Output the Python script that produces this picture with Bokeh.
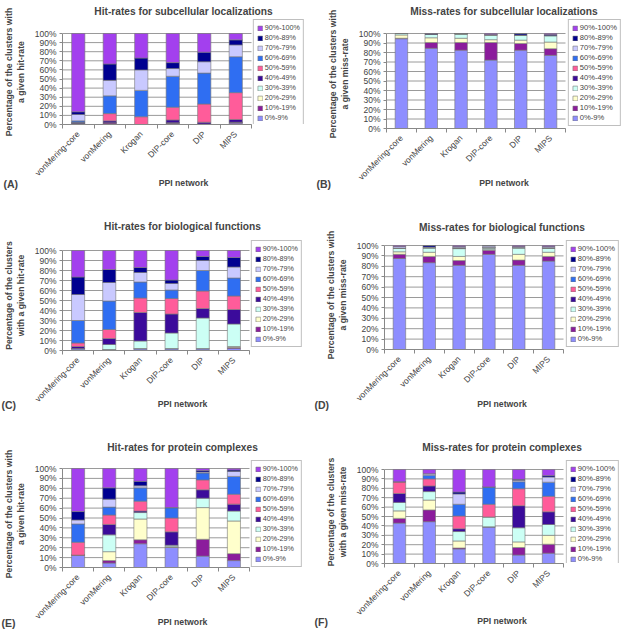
import math
from bokeh.plotting import figure
from bokeh.models import (FixedTicker, NumeralTickFormatter, Legend, LegendItem,
                          ColumnDataSource, Range1d, Title)
from bokeh.layouts import column, row
from bokeh.embed import file_html
from bokeh.resources import INLINE

networks = ["vonMering-core", "vonMering", "Krogan", "DIP-core", "DIP", "MIPS"]
bins = ["0%-9%", "10%-19%", "20%-29%", "30%-39%", "40%-49%",
        "50%-59%", "60%-69%", "70%-79%", "80%-89%", "90%-100%"]
bin_colors = ["#8E8EFF", "#8B1C9C", "#FFFFCC", "#CCFFF5", "#3B0B9B",
              "#FF5C9A", "#2F6EF2", "#C9C9FF", "#000090", "#A340EE"]
y_ticks = [i / 10 for i in range(11)]

hit_loc = [
    [1.0, 0.5, 0.0, 0.0, 1.0, 0.0, 1.5, 7.0, 3.0, 86.0],
    [0.5, 1.5, 0.0, 0.0, 2.0, 8.0, 19.5, 17.0, 18.0, 33.5],
    [0.0, 0.0, 0.0, 0.0, 0.0, 8.5, 29.0, 22.5, 13.0, 27.0],
    [1.0, 1.0, 0.0, 0.0, 3.0, 14.0, 34.0, 8.5, 6.5, 32.0],
    [0.5, 0.0, 0.0, 0.0, 2.0, 20.0, 34.0, 12.5, 10.5, 20.5],
    [1.5, 1.0, 0.0, 0.0, 3.0, 29.5, 39.5, 13.0, 5.5, 7.0],
]
miss_loc = [
    [94.5, 0.5, 3.5, 1.5, 0.0, 0.0, 0.0, 0.0, 0.0, 0.0],
    [84.5, 6.0, 5.0, 3.5, 0.3, 0.0, 0.0, 0.0, 0.5, 0.2],
    [82.5, 8.0, 4.5, 4.5, 0.3, 0.0, 0.0, 0.0, 0.2, 0.0],
    [72.0, 18.5, 3.0, 5.0, 0.0, 0.0, 0.0, 0.5, 0.0, 1.0],
    [82.5, 7.0, 3.5, 5.0, 0.5, 0.0, 0.0, 0.0, 1.5, 0.0],
    [77.0, 7.0, 7.0, 6.5, 0.5, 0.0, 0.0, 0.0, 1.0, 1.0],
]
hit_fun = [
    [1.5, 0.5, 0.0, 0.0, 2.0, 3.5, 22.5, 26.0, 17.5, 26.5],
    [0.5, 0.5, 0.0, 5.0, 6.0, 9.0, 28.5, 18.5, 13.0, 19.0],
    [1.5, 0.5, 0.0, 7.5, 28.5, 14.5, 16.0, 9.5, 5.0, 17.0],
    [1.5, 0.5, 0.0, 15.5, 19.0, 15.5, 8.5, 6.5, 3.5, 29.5],
    [1.5, 0.5, 0.0, 30.5, 9.5, 17.5, 20.5, 10.0, 4.0, 6.0],
    [2.0, 1.0, 1.0, 22.5, 14.5, 13.5, 18.0, 11.0, 9.5, 7.0],
]
miss_fun = [
    [87.5, 4.0, 2.5, 3.5, 0.0, 0.0, 0.0, 1.5, 0.0, 1.0],
    [83.5, 6.0, 4.0, 4.0, 0.5, 0.0, 0.0, 0.5, 1.5, 0.0],
    [81.0, 4.5, 4.0, 7.5, 0.5, 0.0, 0.0, 1.0, 0.5, 1.0],
    [91.5, 4.0, 0.5, 1.5, 0.5, 0.0, 0.0, 1.5, 0.5, 0.0],
    [81.0, 5.0, 5.5, 6.0, 0.5, 0.0, 0.0, 1.0, 0.0, 1.0],
    [85.0, 4.5, 4.0, 4.0, 0.0, 0.0, 0.0, 1.0, 0.5, 1.0],
]
hit_cpx = [
    [12.5, 0.0, 0.0, 0.0, 0.0, 13.0, 18.5, 4.0, 8.5, 43.5],
    [4.5, 2.5, 9.0, 17.0, 10.5, 9.5, 8.0, 8.0, 11.5, 19.5],
    [24.0, 4.0, 21.0, 6.5, 1.5, 10.0, 13.5, 2.0, 4.5, 13.0],
    [20.5, 0.0, 0.5, 1.5, 13.5, 14.0, 10.5, 0.0, 0.0, 39.5],
    [11.5, 17.0, 32.0, 9.5, 8.5, 10.0, 7.0, 1.0, 1.5, 2.0],
    [7.0, 7.0, 33.0, 10.0, 7.0, 10.0, 18.0, 5.0, 1.5, 1.5],
]
miss_cpx = [
    [43.0, 5.0, 8.0, 9.0, 9.5, 12.5, 0.0, 0.0, 0.0, 13.0],
    [44.5, 12.5, 10.5, 9.0, 6.0, 7.5, 4.0, 1.5, 0.0, 4.5],
    [15.5, 1.0, 7.5, 10.0, 3.0, 13.5, 12.5, 11.0, 2.0, 24.0],
    [39.0, 0.0, 0.0, 10.5, 0.0, 13.5, 18.5, 0.0, 0.0, 18.5],
    [9.0, 8.0, 6.0, 15.0, 23.5, 18.0, 7.5, 1.5, 1.0, 10.5],
    [11.0, 9.5, 9.5, 11.5, 13.5, 16.5, 15.0, 5.5, 1.5, 6.5],
]

FONT = "Liberation Sans"
N = len(networks)


def make_panel(c):
    fw = c["bar_w"] + c["leg_area"]
    fh = c["bar_h"] + c["top_extra"]
    xmax = N * fw / c["bar_w"]
    ymax = fh / c["bar_h"]
    p = figure(frame_width=fw, frame_height=fh, output_backend="svg", toolbar_location=None,
               x_range=Range1d(0, xmax), y_range=Range1d(0, ymax),
               min_border_left=c["left"], min_border_right=c["right"],
               min_border_top=c["top"], min_border_bottom=c["bottom"],
               title=c["title"])
    p.outline_line_color = None
    p.background_fill_color = "white"
    p.border_fill_color = "white"
    p.xgrid.visible = False
    p.ygrid.visible = False

    # horizontal gridlines across the plot area only
    p.segment(x0=[0] * len(y_ticks), x1=[N] * len(y_ticks), y0=y_ticks, y1=y_ticks,
              line_color="#9a9a9a", line_width=1)

    src = {"x": [i + 0.5 for i in range(N)]}
    for b, lab in enumerate(bins):
        src[lab] = [r[b] / 100.0 for r in c["data"]]
    source = ColumnDataSource(src)
    rs = p.vbar_stack(bins, x="x", width=0.42, fill_color=bin_colors,
                      line_color="#777777", line_width=0.6, source=source)

    p.title.align = "center"
    p.title.offset = -c["leg_area"] / 2
    p.title.text_font = FONT
    p.title.text_font_size = "10.2px"
    p.title.text_font_style = "bold"
    p.title.standoff = c["tstand"]

    ya = p.yaxis[0]
    ya.bounds = (0, 1)
    ya.ticker = FixedTicker(ticks=y_ticks)
    ya.formatter = NumeralTickFormatter(format="0%")
    ya.major_label_text_font = FONT
    ya.major_label_text_font_size = "8.5px"
    ya.major_label_standoff = 3
    ya.major_tick_in = 0
    ya.major_tick_out = 3
    ya.minor_tick_line_color = None
    ya.axis_line_color = "#888888"
    ya.major_tick_line_color = "#888888"
    ya.axis_label = c["ylabel"]
    ya.axis_label_text_font = FONT
    ya.axis_label_text_font_size = "8.7px"
    ya.axis_label_text_font_style = "bold"
    ya.axis_label_standoff = 6

    xa = p.xaxis[0]
    xa.bounds = (0, N)
    xa.ticker = FixedTicker(ticks=[i + 0.5 for i in range(N)],
                            minor_ticks=list(range(N + 1)))
    xa.major_label_overrides = {i + 0.5: n for i, n in enumerate(networks)}
    xa.major_tick_line_color = None
    xa.minor_tick_in = 0
    xa.minor_tick_out = 4
    xa.minor_tick_line_color = "#888888"
    xa.axis_line_color = "#888888"
    xa.major_label_orientation = math.pi / 4
    xa.major_label_text_font = FONT
    xa.major_label_text_font_size = "8.5px"
    xa.major_label_standoff = 2
    xa.axis_label = "PPI network"
    xa.axis_label_text_font = FONT
    xa.axis_label_text_font_size = "8.7px"
    xa.axis_label_text_font_style = "bold"
    xa.axis_label_standoff = c["xstand"]

    items = [LegendItem(label=bins[i], renderers=[rs[i]]) for i in reversed(range(len(bins)))]
    leg = Legend(items=items, location="top_right", orientation="vertical")
    leg.label_text_font = FONT
    leg.label_text_font_size = c["leg_font"]
    leg.glyph_width = 6
    leg.glyph_height = 6
    leg.label_height = 9
    leg.label_standoff = 2
    leg.spacing = 1
    leg.padding = 3
    leg.margin = 0
    leg.border_line_color = "#808080"
    leg.border_line_width = 1
    leg.background_fill_color = "white"
    leg.background_fill_alpha = 1.0
    p.add_layout(leg)

    let = Title(text="(" + c["letter"] + ")", align="left", vertical_align="top",
                offset=c["let_off"], standoff=c["let_stand"], text_font=FONT,
                text_font_size="10.5px", text_font_style="bold")
    p.add_layout(let, "below")
    return p


YH = "Percentage of the clusters with\na given hit-rate"
YM = "Percentage of the clusters with\na given miss-rate"
YH2 = "Percentage of the clusters\nwith a given hit-rate"
YM2 = "Percentage of the clusters\nwith a given miss-rate"

cfgs = [
    dict(title="Hit-rates for subcellular localizations", data=hit_loc, ylabel=YH, letter="A",
         bar_w=189, leg_area=53, bar_h=91, top_extra=14,
         left=60, right=4, top=19, bottom=76, tstand=6, xstand=-6,
         leg_font="7.2px", let_off=-59, let_stand=-27),
    dict(title="Miss-rates for subcellular localizations", data=miss_loc, ylabel=YM, letter="B",
         bar_w=179, leg_area=56, bar_h=95, top_extra=14,
         left=78, right=0, top=19, bottom=72, tstand=6, xstand=-10,
         leg_font="7.6px", let_off=-70, let_stand=-27),
    dict(title="Hit-rates for biological functions", data=hit_fun, ylabel=YH2, letter="C",
         bar_w=187, leg_area=53, bar_h=100, top_extra=10,
         left=62, right=4, top=40, bottom=61, tstand=17, xstand=-11,
         leg_font="7.2px", let_off=-61, let_stand=-27),
    dict(title="Miss-rates for biological functions", data=miss_fun, ylabel=YM, letter="D",
         bar_w=179, leg_area=56, bar_h=104, top_extra=5,
         left=78, right=0, top=40, bottom=62, tstand=15, xstand=-10,
         leg_font="7.6px", let_off=-70, let_stand=-27),
    dict(title="Hit-rates for protein complexes", data=hit_cpx, ylabel=YH, letter="E",
         bar_w=187, leg_area=53, bar_h=99, top_extra=8,
         left=62, right=4, top=47, bottom=57, tstand=16, xstand=-10,
         leg_font="7.2px", let_off=-61, let_stand=-27),
    dict(title="Miss-rates for protein complexes", data=miss_cpx, ylabel=YM2, letter="F",
         bar_w=179, leg_area=56, bar_h=94, top_extra=9,
         left=78, right=0, top=48, bottom=60, tstand=16, xstand=-7,
         leg_font="7.6px", let_off=-70, let_stand=-27),
]

figs = [make_panel(c) for c in cfgs]
layout = column(row(figs[0], figs[1]), row(figs[2], figs[3]), row(figs[4], figs[5]))

open("out.html", "w").write(file_html(layout, INLINE))
